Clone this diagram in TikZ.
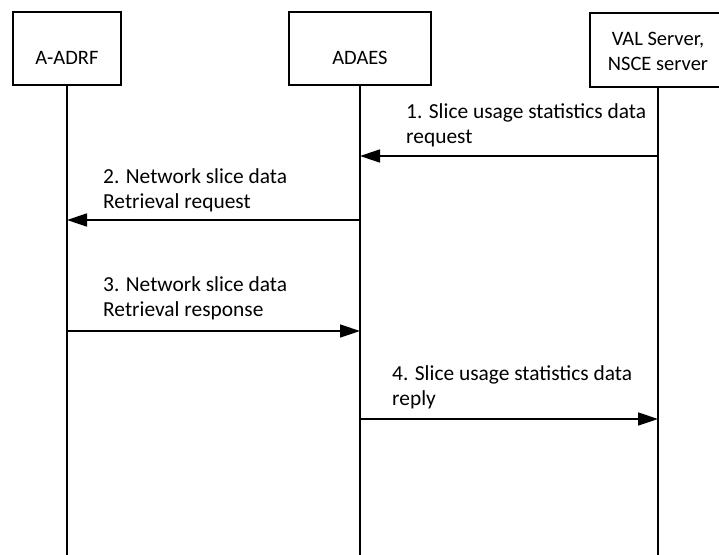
\documentclass[tikz,border=0pt]{standalone}
\usepackage{fontspec}
\setmainfont{Carlito}
\usetikzlibrary{arrows.meta}
\begin{document}
\begin{tikzpicture}[x=1pt,y=-1pt,
  entity/.style={draw,line width=1.5pt,minimum width=#1,inner sep=0pt},
  txt/.style={inner sep=0pt,font=\fontsize{20.5}{25}\selectfont},
  lbl/.style={inner sep=0pt,anchor=west,align=left,font=\fontsize{21.4}{25}\selectfont},
  life/.style={line width=2pt},
  msg/.style={line width=1.5pt,-{Triangle[length=20pt,width=13pt]}}]
\useasboundingbox (0,0) rectangle (719,554);
% entity boxes
\node[entity=108pt,minimum height=73pt] (adrf) at (67,48.5) {};
\node[entity=142pt,minimum height=73pt] (adaes) at (360,48.5) {};
\node[entity=136pt,minimum height=74pt] (val) at (658,50) {};
\node[txt] (adrft) at (67,58) {A-ADRF};
\node[txt] (adaest) at (360,58) {ADAES};
\node[txt,align=center] (valt) at (658,51) {VAL Server,\\NSCE server};
% lifelines
\coordinate (adrfend) at (67,556);
\coordinate (adaesend) at (360,556);
\coordinate (valend) at (658,556);
\draw[life] (adrf.south) -- (adrfend);
\draw[life] (adaes.south) -- (adaesend);
\draw[life] (val.south) -- (valend);
% message points
\coordinate (m1s) at (658,156);
\coordinate (m1e) at (360,156);
\coordinate (m2s) at (360,220);
\coordinate (m2e) at (67,220);
\coordinate (m3s) at (67,331);
\coordinate (m3e) at (360,331);
\coordinate (m4s) at (360,419);
\coordinate (m4e) at (658,419);
\draw[msg] (m1s) -- (m1e);
\draw[msg] (m2s) -- (m2e);
\draw[msg] (m3s) -- (m3e);
\draw[msg] (m4s) -- (m4e);
% labels
\node[lbl] (l1) at (406,125.5) {1. Slice usage statistics data\\request};
\node[lbl] (l2) at (103,190) {2. Network slice data\\Retrieval request};
\node[lbl] (l3) at (103,298) {3. Network slice data\\Retrieval response};
\node[lbl] (l4) at (392,387.5) {4. Slice usage statistics data\\reply};
\end{tikzpicture}
\end{document}
